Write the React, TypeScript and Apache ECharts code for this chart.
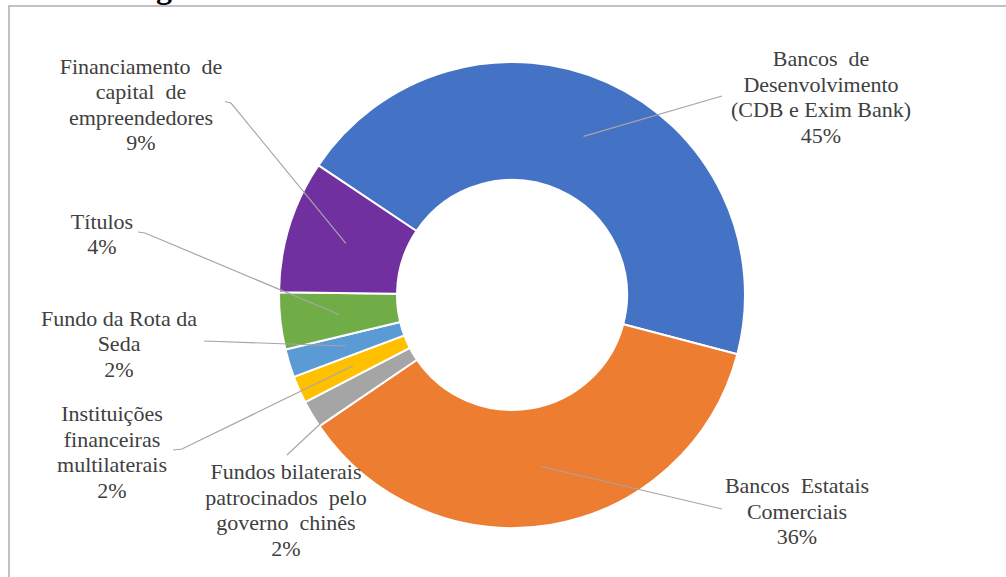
import React, { useEffect, useRef } from "react";
import * as echarts from "echarts";

// Slices in clockwise order, starting with the large blue slice
const CATEGORIES = [
  "Bancos\u00A0 de\nDesenvolvimento\n(CDB e Exim Bank)",
  "Bancos\u00A0 Estatais\nComerciais",
  "Fundos bilaterais\npatrocinados\u00A0 pelo\ngoverno\u00A0 chinês",
  "Instituições\nfinanceiras\nmultilaterais",
  "Fundo da Rota da\nSeda",
  "Títulos",
  "Financiamento\u00A0 de\ncapital\u00A0 de\nempreendedores",
];
const VALUES = [44.7, 36.4, 1.9, 1.9, 1.95, 3.95, 9.2];
const COLORS = ["#4472C4", "#ED7D31", "#A5A5A5", "#FFC000", "#5B9BD5", "#70AD47", "#7030A0"];

// Layout (not data)
const CENTER: [number, number] = [512, 295];
const R_IN = 115;
const R_OUT = 233;
const START_ANGLE = 146.2;
const LABEL_POS: [number, number][] = [
  [821, 97],
  [797, 511],
  [286, 510],
  [112, 452],
  [119, 343.5],
  [102, 234],
  [141, 104.5],
];
const LINE_START: [number, number][][] = [
  [[722, 96]],
  [[722, 509]],
  [[287, 455]],
  [[173, 450], [182, 449]],
  [[204, 341]],
  [[138, 232], [145, 233]],
  [[225, 101.5], [231, 103]],
];

const SERIF = '"Liberation Serif", serif';

function anchorFor(i: number): [number, number] {
  const total = VALUES.reduce((a, b) => a + b, 0);
  let before = 0;
  for (let k = 0; k < i; k++) before += VALUES[k];
  const midFrac = (before + VALUES[i] / 2) / total;
  const a = ((START_ANGLE - midFrac * 360) * Math.PI) / 180;
  const rm = (R_IN + R_OUT) / 2;
  return [CENTER[0] + rm * Math.cos(a), CENTER[1] - rm * Math.sin(a)];
}

export default function App() {
  const ref = useRef<HTMLDivElement>(null);
  useEffect(() => {
    document.body.style.margin = "0";
    const chart = echarts.init(ref.current!, null, { renderer: "svg" });
    const leaderLines = CATEGORIES.map((_, i) => ({
      type: "polyline",
      z: 100,
      silent: true,
      shape: { points: [...LINE_START[i], anchorFor(i)] },
      style: { fill: "none", stroke: "#A6A6A6", lineWidth: 1.2 },
    }));
    const option: any = {
      animation: false,
      backgroundColor: "#ffffff",
      textStyle: { fontFamily: SERIF },
      graphic: [
        {
          type: "rect",
          shape: { x: 9, y: 6, width: 1200, height: 800 },
          style: { fill: "none", stroke: "#ADADAD", lineWidth: 1.5 },
          silent: true,
        },
        {
          type: "text",
          x: 164,
          y: -13,
          style: {
            text: "g",
            font: 'bold 32px "Liberation Serif"',
            fill: "#000000",
            align: "center",
            verticalAlign: "middle",
          },
          silent: true,
        },
        ...leaderLines,
      ],
      series: [
        {
          type: "pie",
          center: CENTER,
          radius: [R_IN, R_OUT],
          startAngle: START_ANGLE,
          clockwise: true,
          avoidLabelOverlap: false,
          silent: true,
          itemStyle: { borderColor: "#ffffff", borderWidth: 2 },
          label: {
            show: true,
            position: "outside",
            align: "center",
            overflow: "none",
            formatter: (p: any) =>
              [...p.name.split("\n"), `${Math.round(p.percent)}%`]
                .map((line: string) => `{t|${line}}`)
                .join("\n"),
            rich: {
              t: {
                color: "#404040",
                fontFamily: SERIF,
                fontStyle: "normal",
                fontWeight: "normal",
                fontSize: 22,
                lineHeight: 25.5,
                align: "center",
              },
            },
          },
          labelLine: { show: false },
          labelLayout: (params: any) => {
            const pos = LABEL_POS[params.dataIndex];
            return { x: pos[0], y: pos[1], align: "center", verticalAlign: "middle" };
          },
          data: CATEGORIES.map((name, i) => ({
            name,
            value: VALUES[i],
            itemStyle: { color: COLORS[i] },
          })),
        },
      ],
    };
    chart.setOption(option);
    return () => chart.dispose();
  }, []);
  return <div ref={ref} style={{ width: 1006, height: 577 }} />;
}
